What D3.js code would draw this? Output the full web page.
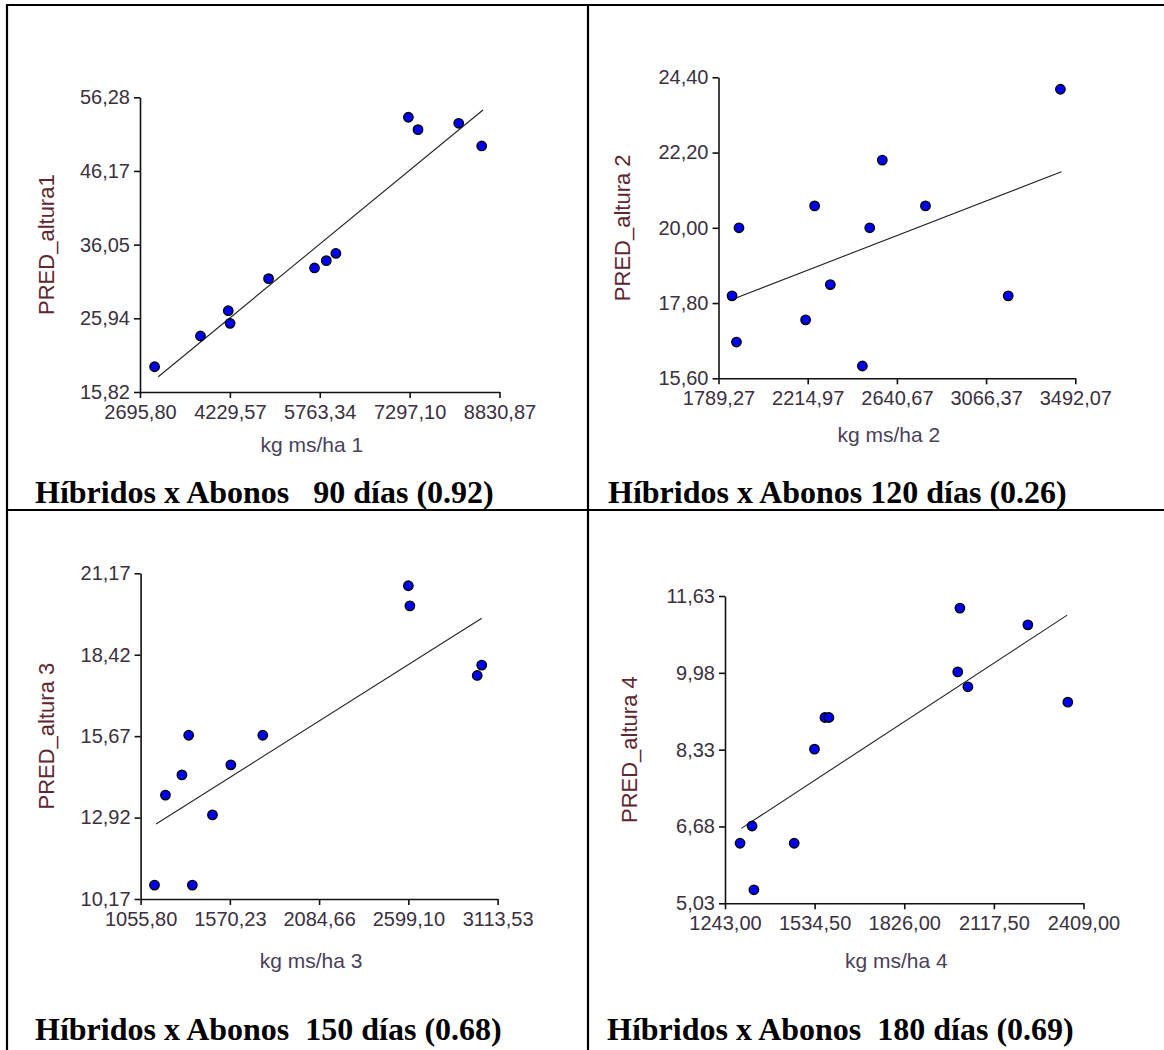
<!DOCTYPE html>
<html>
<head>
<meta charset="utf-8">
<script src="https://cdn.jsdelivr.net/npm/d3@7/dist/d3.min.js"></script>
<style>
  html, body { margin: 0; padding: 0; background: #ffffff; }
  svg { display: block; }
</style>
</head>
<body>
<svg id="chart" width="1164" height="1050"></svg>
<script>
// ---------- DATA ----------
const titles = [
  "Híbridos x Abonos   90 días (0.92)",
  "Híbridos x Abonos 120 días (0.26)",
  "Híbridos x Abonos  150 días (0.68)",
  "Híbridos x Abonos  180 días (0.69)"
];
const xLabels = ["kg ms/ha 1", "kg ms/ha 2", "kg ms/ha 3", "kg ms/ha 4"];
const yLabels = ["PRED_altura1", "PRED_altura 2", "PRED_altura 3", "PRED_altura 4"];

const xTicks1 = [2695.80, 4229.57, 5763.34, 7297.10, 8830.87];
const yTicks1 = [15.82, 25.94, 36.05, 46.17, 56.28];
const xTicks2 = [1789.27, 2214.97, 2640.67, 3066.37, 3492.07];
const yTicks2 = [15.60, 17.80, 20.00, 22.20, 24.40];
const xTicks3 = [1055.80, 1570.23, 2084.66, 2599.10, 3113.53];
const yTicks3 = [10.17, 12.92, 15.67, 18.42, 21.17];
const xTicks4 = [1243.00, 1534.50, 1826.00, 2117.50, 2409.00];
const yTicks4 = [5.03, 6.68, 8.33, 9.98, 11.63];

const kg1 = [2945, 3728, 4202, 4233, 4890, 5674, 5875, 6039, 7276, 7440, 8135, 8527];
const alt1 = [19.29, 23.51, 26.98, 25.25, 31.38, 32.85, 33.85, 34.86, 53.54, 51.84, 52.71, 49.60];
const kg2 = [1854, 1875, 1887, 2205, 2248, 2323, 2476, 2511, 2571, 2777, 3172, 3421];
const alt2 = [18.01, 16.66, 20.00, 17.31, 20.64, 18.34, 15.96, 20.00, 21.98, 20.64, 18.01, 24.05];
const kg3 = [1136, 1199, 1294, 1333, 1354, 1470, 1576, 1760, 2599, 2608, 2996, 3022];
const alt3 = [10.64, 13.68, 14.36, 15.70, 10.64, 13.01, 14.70, 15.70, 20.75, 20.07, 17.72, 18.07];
const kg4 = [1292, 1331, 1337, 1468, 1534, 1568, 1581, 2000, 2007, 2033, 2228, 2358];
const alt4 = [6.32, 6.69, 5.32, 6.32, 8.34, 9.02, 9.02, 10.00, 11.37, 9.68, 11.01, 9.35];

// fitted regression line end points
const fitX1 = [3008, 8549], fitY1 = [17.92, 54.54];
const fitX2 = [1857, 3426], fitY2 = [17.91, 21.64];
const fitX3 = [1145, 3022], fitY3 = [12.70, 19.65];
const fitX4 = [1296, 2356], fitY4 = [6.64, 11.22];

// ---------- LAYOUT ----------
const layout = [
  {x0: 140, x1: 499.5, y0: 392, y1: 97.3, ylx: 48, xly: 446, tx: 35, ty: 503},
  {x0: 718.5, x1: 1075.3, y0: 378.3, y1: 77.3, ylx: 624, xly: 436, tx: 608, ty: 503},
  {x0: 140.6, x1: 497.6, y0: 899, y1: 573.3, ylx: 48, xly: 962, tx: 35, ty: 1040},
  {x0: 725, x1: 1083.5, y0: 903.3, y1: 596, ylx: 631, xly: 962, tx: 607, ty: 1040}
];

const panels = [
  {xt: xTicks1, yt: yTicks1, xs: kg1, ys: alt1, fx: fitX1, fy: fitY1},
  {xt: xTicks2, yt: yTicks2, xs: kg2, ys: alt2, fx: fitX2, fy: fitY2},
  {xt: xTicks3, yt: yTicks3, xs: kg3, ys: alt3, fx: fitX3, fy: fitY3},
  {xt: xTicks4, yt: yTicks4, xs: kg4, ys: alt4, fx: fitX4, fy: fitY4}
];

const svg = d3.select("#chart");
const fmt = v => d3.format(".2f")(v).replace(".", ",");

// ---------- TABLE BORDERS ----------
const borders = svg.append("g").attr("stroke", "#000").attr("stroke-width", 2.2);
borders.append("line").attr("x1", 6).attr("x2", 1164).attr("y1", 5).attr("y2", 5);
borders.append("line").attr("x1", 7).attr("x2", 7).attr("y1", 4).attr("y2", 1050);
borders.append("line").attr("x1", 588).attr("x2", 588).attr("y1", 4).attr("y2", 1050);
borders.append("line").attr("x1", 6).attr("x2", 1164).attr("y1", 510).attr("y2", 510);

panels.forEach((p, i) => {
  const L = layout[i];
  const x = d3.scaleLinear().domain([p.xt[0], p.xt[p.xt.length - 1]]).range([L.x0, L.x1]);
  const y = d3.scaleLinear().domain([p.yt[0], p.yt[p.yt.length - 1]]).range([L.y0, L.y1]);
  const g = svg.append("g");

  const xa = g.append("g").attr("transform", `translate(0,${L.y0})`)
    .call(d3.axisBottom(x).tickValues(p.xt).tickFormat(fmt).tickSize(6).tickSizeOuter(0).tickPadding(4));
  const ya = g.append("g").attr("transform", `translate(${L.x0},0)`)
    .call(d3.axisLeft(y).tickValues(p.yt).tickFormat(fmt).tickSize(6).tickSizeOuter(0).tickPadding(4));
  [xa, ya].forEach(a => {
    a.select(".domain").attr("stroke", "#111").attr("stroke-width", 1.6);
    a.selectAll(".tick line").attr("stroke", "#111").attr("stroke-width", 1.6);
    a.selectAll(".tick text")
      .attr("font-family", "Arial, 'Liberation Sans', sans-serif")
      .attr("font-size", 20)
      .attr("fill", "#3b3040");
  });
  xa.selectAll(".tick text").attr("dy", "0.85em");

  // regression line
  g.append("line")
    .attr("x1", x(p.fx[0])).attr("y1", y(p.fy[0]))
    .attr("x2", x(p.fx[1])).attr("y2", y(p.fy[1]))
    .attr("stroke", "#222").attr("stroke-width", 1.1);

  // points
  g.selectAll("circle").data(p.xs.map((v, k) => [v, p.ys[k]])).join("circle")
    .attr("cx", d => x(d[0])).attr("cy", d => y(d[1])).attr("r", 4.7)
    .attr("fill", "#0000f0").attr("stroke", "#000").attr("stroke-width", 1.4);

  // axis labels
  g.append("text")
    .attr("x", (L.x0 + L.x1) / 2 - 8).attr("y", L.xly)
    .attr("text-anchor", "middle").attr("dominant-baseline", "middle")
    .attr("font-family", "Arial, 'Liberation Sans', sans-serif").attr("font-size", 21)
    .attr("fill", "#4a3f5a").text(xLabels[i]);
  g.append("text")
    .attr("transform", `translate(${L.ylx},${(L.y0 + L.y1) / 2}) rotate(-90)`)
    .attr("text-anchor", "middle").attr("dominant-baseline", "middle")
    .attr("font-family", "Arial, 'Liberation Sans', sans-serif").attr("font-size", 22)
    .attr("fill", "#5e2630").text(yLabels[i]);

  // panel caption
  svg.append("text")
    .attr("x", L.tx).attr("y", L.ty)
    .attr("font-family", "'Liberation Serif', 'Times New Roman', serif")
    .attr("font-weight", "bold").attr("font-size", 32)
    .attr("fill", "#000").style("white-space", "pre").attr("xml:space", "preserve")
    .text(titles[i]);
});
</script>
</body>
</html>
